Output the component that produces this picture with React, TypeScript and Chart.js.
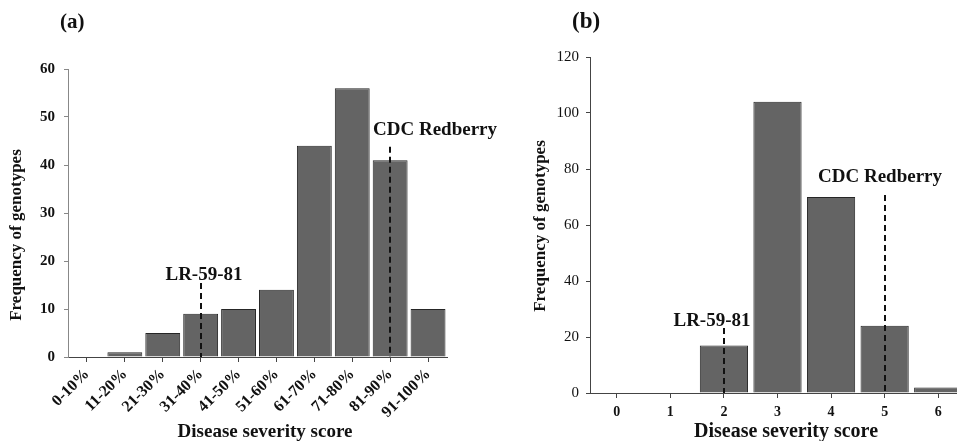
import React, { useEffect, useRef } from "react";
import { Chart, registerables } from "chart.js";

Chart.register(...registerables);

// ---------- data ----------
const categoriesA = ["0-10%", "11-20%", "21-30%", "31-40%", "41-50%", "51-60%", "61-70%", "71-80%", "81-90%", "91-100%"];
const frequencyA = [0, 1, 5, 9, 10, 14, 44, 56, 41, 10];
const yMaxA = 60;
const yStepA = 10;

const categoriesB = ["0", "1", "2", "3", "4", "5", "6"];
const frequencyB = [0, 0, 17, 104, 70, 24, 2];
const yMaxB = 120;
const yStepB = 20;

const markersA = [
  { label: "LR-59-81", category: "31-40%", lineTop: 15.4, labelAt: 17.1 },
  { label: "CDC Redberry", category: "81-90%", lineTop: 43.8, labelAt: 47.3 },
];
const markersB = [
  { label: "LR-59-81", category: "2", lineTop: 23.2, labelAt: 25.7 },
  { label: "CDC Redberry", category: "5", lineTop: 70.7, labelAt: 77.1 },
];

const panelA = "(a)";
const panelB = "(b)";
const xTitle = "Disease severity score";
const yTitle = "Frequency of genotypes";

const SERIF = "'Liberation Serif', 'Times New Roman', serif";

// ---------- overlay plugin ----------
const overlayPlugin = {
  id: "overlay",
  afterDatasetsDraw(chart: any, _args: any, opts: any) {
    const ctx = chart.ctx;
    const xs = chart.scales.x;
    const ys = chart.scales.y;
    ctx.save();
    (opts.markers || []).forEach((m: any, i: number) => {
      const idx = xs.getLabels().indexOf(m.category);
      const px = Math.round(xs.getPixelForValue(idx));
      const y0 = ys.getPixelForValue(0);
      const y1 = ys.getPixelForValue(m.lineTop);
      ctx.setLineDash([6, 4]);
      ctx.lineWidth = 2;
      ctx.strokeStyle = "#111";
      ctx.beginPath();
      ctx.moveTo(px, y1);
      ctx.lineTo(px, y0);
      ctx.stroke();
      ctx.setLineDash([]);
      ctx.font = `bold ${opts.markerFont}px ${SERIF}`;
      ctx.fillStyle = "#111";
      ctx.textAlign = "center";
      ctx.textBaseline = "middle";
      const dx = (opts.labelDx && opts.labelDx[i]) || 0;
      ctx.fillText(m.label, px + dx, ys.getPixelForValue(m.labelAt));
    });
    // panel letter
    ctx.font = `bold ${opts.panelFont}px ${SERIF}`;
    ctx.fillStyle = "#111";
    ctx.textAlign = "left";
    ctx.textBaseline = "middle";
    ctx.fillText(opts.panel, opts.panelX, opts.panelY);
    // x title
    ctx.font = `bold ${opts.xTitleFont}px ${SERIF}`;
    ctx.textAlign = "center";
    ctx.fillText(opts.xTitle, opts.xTitleX, opts.xTitleY);
    // y title
    ctx.translate(opts.yTitleX, opts.yTitleY);
    ctx.rotate(-Math.PI / 2);
    ctx.font = `bold ${opts.yTitleFont}px ${SERIF}`;
    ctx.fillText(opts.yTitle, 0, 0);
    ctx.restore();
  },
};

function makeConfig(p: any) {
  return {
    type: "bar",
    data: {
      labels: p.labels,
      datasets: [
        {
          data: p.values,
          backgroundColor: "#646464",
          borderColor: "#262626",
          borderWidth: 1,
          borderSkipped: "bottom",
          barPercentage: p.barPct,
          categoryPercentage: 1,
        },
      ],
    },
    options: {
      responsive: false,
      animation: false,
      events: [],
      layout: { padding: p.padding },
      plugins: {
        legend: { display: false },
        tooltip: { enabled: false },
        overlay: p.overlay,
      },
      scales: {
        x: {
          afterFit: (s: any) => {
            s.height = p.xHeight;
          },
          grid: {
            display: true,
            drawOnChartArea: false,
            drawTicks: true,
            tickLength: 5,
            offset: false,
            color: "#444",
          },
          border: { display: true, color: "#444", width: 1 },
          ticks: {
            color: "#111",
            font: { family: SERIF, size: p.xTickSize, weight: "bold" },
            minRotation: p.rot,
            maxRotation: p.rot,
            padding: p.xTickPad,
            autoSkip: false,
          },
        },
        y: {
          min: 0,
          max: p.yMax,
          afterFit: (s: any) => {
            s.width = p.yWidth;
          },
          grid: {
            display: true,
            drawOnChartArea: false,
            drawTicks: true,
            tickLength: 4,
            color: p.yAxisColor,
          },
          border: { display: true, color: p.yAxisColor, width: 1 },
          ticks: {
            stepSize: p.yStep,
            color: "#111",
            padding: p.yTickPad,
            font: { family: SERIF, size: p.yTickSize, weight: p.yTickWeight },
          },
        },
      },
    },
    plugins: [overlayPlugin],
  };
}

function ChartCanvas({ cfg, width, height, left }: any) {
  const ref = useRef<HTMLCanvasElement | null>(null);
  useEffect(() => {
    if (!ref.current) return;
    const chart = new Chart(ref.current, cfg);
    return () => chart.destroy();
  }, []);
  return (
    <canvas
      ref={ref}
      width={width}
      height={height}
      style={{ position: "absolute", left, top: 0, width, height, display: "block" }}
    />
  );
}

export default function App() {
  const cfgA = makeConfig({
    labels: categoriesA,
    values: frequencyA,
    barPct: 0.92,
    padding: { left: 0, top: 69, right: 73, bottom: 0 },
    xHeight: 103,
    yWidth: 68,
    yMax: yMaxA,
    yStep: yStepA,
    xTickSize: 16,
    xTickPad: 3,
    rot: 45,
    yTickSize: 15,
    yTickWeight: "bold",
    yTickPad: 9,
    yAxisColor: "#888",
    overlay: {
      markers: markersA,
      labelDx: [3, 45],
      markerFont: 19,
      panel: panelA,
      panelFont: 21,
      panelX: 60,
      panelY: 23,
      xTitle,
      xTitleFont: 19,
      xTitleX: 265,
      xTitleY: 432,
      yTitle,
      yTitleFont: 17,
      yTitleX: 17,
      yTitleY: 235,
    },
  });
  const cfgB = makeConfig({
    labels: categoriesB,
    values: frequencyB,
    barPct: 0.9,
    padding: { left: 0, top: 57, right: 15, bottom: 0 },
    xHeight: 67,
    yWidth: 110,
    yMax: yMaxB,
    yStep: yStepB,
    xTickSize: 14,
    xTickPad: 6,
    rot: 0,
    yTickSize: 15,
    yTickWeight: "normal",
    yTickPad: 7,
    yAxisColor: "#444",
    overlay: {
      markers: markersB,
      labelDx: [-12, -5],
      markerFont: 19,
      panel: panelB,
      panelFont: 23,
      panelX: 92,
      panelY: 22,
      xTitle,
      xTitleFont: 20,
      xTitleX: 306,
      xTitleY: 432,
      yTitle,
      yTitleFont: 17,
      yTitleX: 61,
      yTitleY: 226,
    },
  });
  return (
    <div
      style={{
        position: "fixed",
        left: 0,
        top: 0,
        width: 957,
        height: 441,
        overflow: "hidden",
        background: "#fff",
      }}
    >
      <ChartCanvas cfg={cfgA} width={520} height={460} left={0} />
      <ChartCanvas cfg={cfgB} width={500} height={460} left={480} />
    </div>
  );
}
